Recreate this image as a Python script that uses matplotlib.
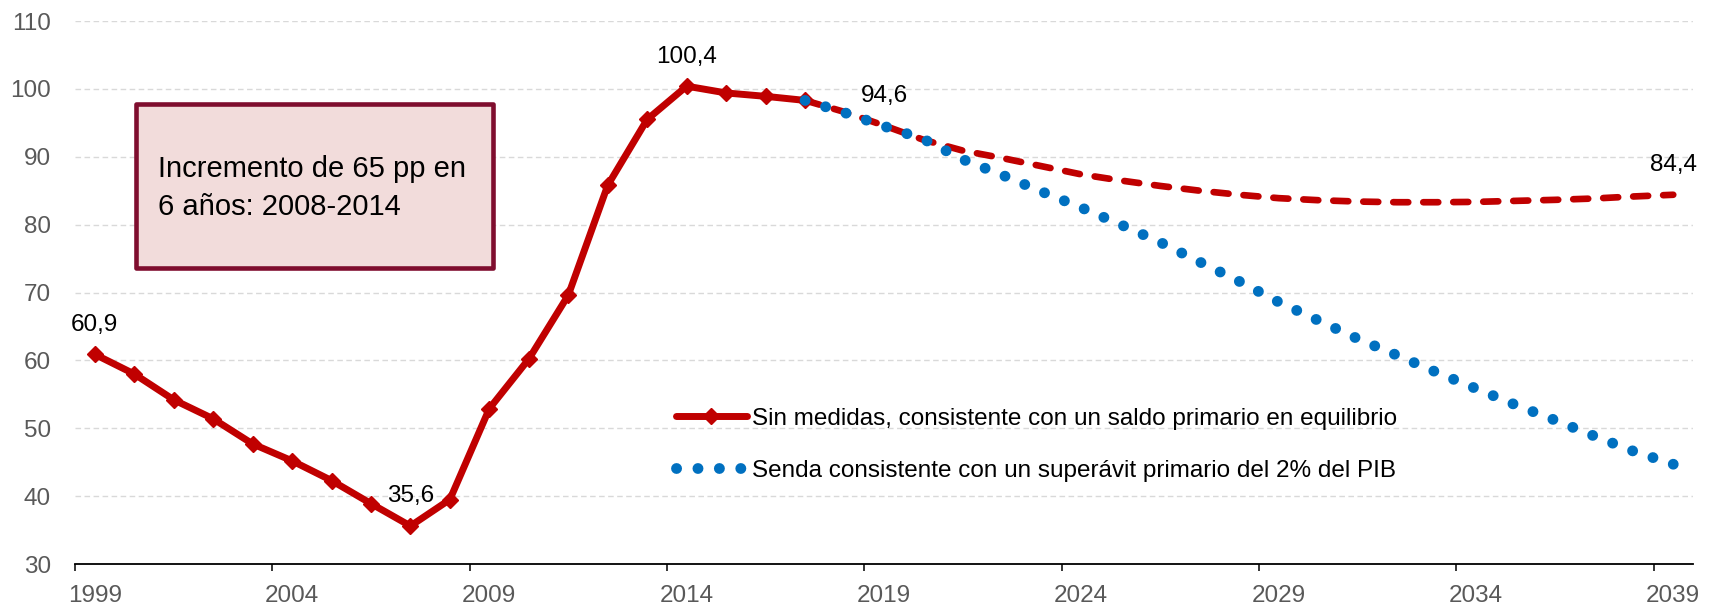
import matplotlib

matplotlib.use("Agg")
import matplotlib.pyplot as plt
import numpy as np
from matplotlib.patches import Rectangle

plt.rcParams["font.family"] = ["Liberation Sans", "DejaVu Sans"]

# Deuda pública, % del PIB
YEARS_HIST = list(range(1999, 2018))
DEBT_HIST = [60.9, 58.0, 54.2, 51.4, 47.7, 45.2, 42.3, 38.9, 35.6, 39.5,
             52.9, 60.2, 69.6, 85.8, 95.5, 100.4, 99.4, 98.9, 98.3]

YEARS_PROJ = list(range(2017, 2040))
DEBT_NO_MEASURES = [98.3, 96.6, 94.6, 92.5, 90.9, 89.8, 88.6, 87.4, 86.5, 85.7,
                    85.0, 84.4, 83.9, 83.6, 83.4, 83.3, 83.3, 83.35, 83.5, 83.65,
                    83.85, 84.15, 84.4]
DEBT_SURPLUS = [98.3, 96.5, 94.5, 92.6, 89.6, 87.3, 84.85, 82.5, 80.0, 77.4,
                74.5, 71.65, 68.6, 65.9, 63.2, 60.75, 58.25, 55.85, 53.45, 51.2,
                48.85, 46.6, 44.7]

LABEL_YEARS = list(range(1999, 2040, 5))
Y_TICKS = list(range(30, 111, 10))

# years annotated with their value
HIST_LABELS = [1999, 2007, 2014]
PROJ_LABELS = [2019, 2039]

LEGEND_LABELS = [
    "Sin medidas, consistente con un saldo primario en equilibrio",
    "Senda consistente con un superávit primario del 2% del PIB",
]
BOX_LINES = ["Incremento de 65 pp en", "6 años: 2008-2014"]

RED = "#c00000"
BLUE = "#0070c0"
GREY = "#595959"
FS = 17.5
DOT_LW = 7.8
DOT_STEP_PX = 21.3

fig = plt.figure(figsize=(17.11, 6.07), dpi=100)
ax = fig.add_axes([0.04383, 0.07084, 0.94564, 0.89456])
ax.set_xlim(1998.5, 2039.5)
ax.set_ylim(30, 110)

line_hist, = ax.plot(YEARS_HIST, DEBT_HIST, color=RED, lw=5, marker="D", ms=8,
                     solid_capstyle="round", solid_joinstyle="round", zorder=3)
ax.plot(YEARS_PROJ, DEBT_NO_MEASURES, color=RED, lw=4.8, dashes=(2.25, 2.25),
        dash_capstyle="round", zorder=3)

# dotted path: pick the dot spacing so a whole number of dots fits the path,
# which puts a dot on both ends
pts = ax.transData.transform(np.column_stack([YEARS_PROJ, DEBT_SURPLUS]))
path_len = np.hypot(*np.diff(pts, axis=0).T).sum()
step = path_len / round(path_len / DOT_STEP_PX)
lw_px = DOT_LW * fig.dpi / 72
line_blue, = ax.plot(YEARS_PROJ, DEBT_SURPLUS, color=BLUE, lw=DOT_LW,
                     dashes=(0.01, step / lw_px - 0.01),
                     dash_capstyle="round", zorder=4)


def fmt(v):
    return f"{v:.1f}".replace(".", ",")


for yr in HIST_LABELS:
    v = DEBT_HIST[YEARS_HIST.index(yr)]
    ax.annotate(fmt(v), (yr, v), xytext=(0, 17), textcoords="offset points",
                ha="center", va="baseline", fontsize=FS, color="black")
for yr in PROJ_LABELS:
    v = DEBT_NO_MEASURES[YEARS_PROJ.index(yr)]
    ax.annotate(fmt(v), (yr, v), xytext=(0, 17), textcoords="offset points",
                ha="center", va="baseline", fontsize=FS, color="black")

# tick marks sit between categories, labels on the category itself
ax.set_xticks(np.arange(1998.5, 2039, 5))
ax.set_xticklabels([])
ax.set_xticks(LABEL_YEARS, minor=True)
ax.set_xticklabels([str(y) for y in LABEL_YEARS], minor=True)
ax.tick_params(axis="x", which="major", direction="out", length=5, width=1.1, color="black")
ax.tick_params(axis="x", which="minor", length=0, pad=15, labelsize=FS, labelcolor=GREY)

ax.set_yticks(Y_TICKS)
ax.tick_params(axis="y", length=0, pad=17.5, labelsize=FS, labelcolor=GREY)
ax.yaxis.grid(True, color="#d9d9d9", linestyle=(0, (4, 2.5)), linewidth=1.0)
ax.set_axisbelow(True)

for side in ("left", "right", "top"):
    ax.spines[side].set_visible(False)
ax.spines["bottom"].set_linewidth(1.3)
ax.spines["bottom"].set_color("black")

box = Rectangle((0.0377, 0.5451), 0.2206, 0.302, transform=ax.transAxes,
                facecolor="#f2dcdb", edgecolor="#7f0d2e", lw=3.3,
                joinstyle="round", zorder=5)
ax.add_patch(box)
for txt, y in zip(BOX_LINES, (0.7127, 0.6427)):
    ax.text(0.0511, y, txt, transform=ax.transAxes, fontsize=21, va="baseline",
            ha="left", color="black", zorder=6)

ax.legend([line_hist, line_blue], LEGEND_LABELS, loc="upper left",
          bbox_to_anchor=(0.3714, 0.2876), frameon=False, fontsize=FS,
          handlelength=2.92, handletextpad=0.2, labelspacing=1.23,
          borderpad=0, borderaxespad=0)

fig.savefig("out.png", dpi=100)
